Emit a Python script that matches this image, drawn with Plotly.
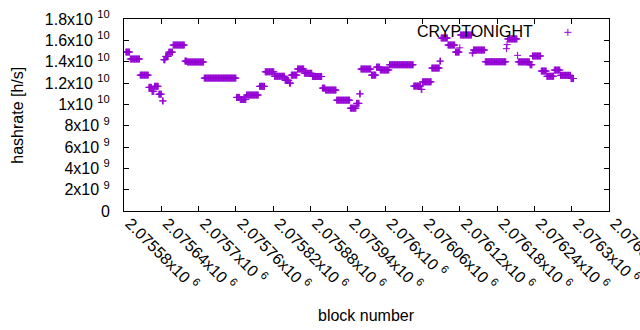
import plotly.graph_objects as go

# Runs of consecutive blocks sharing the same hashrate
run_first = [2075583, 2075590, 2075606, 2075620, 2075625, 2075629, 2075636, 2075642,
             2075644, 2075647, 2075652, 2075659, 2075678, 2075682, 2075709, 2075761,
             2075767, 2075777, 2075798, 2075807, 2075822, 2075839, 2075846, 2075849,
             2075859, 2075870, 2075883, 2075899, 2075904, 2075922, 2075944, 2075954,
             2075959, 2075961, 2075978, 2075986, 2075992, 2076007, 2076046, 2076058,
             2076060, 2076075, 2076088, 2076090, 2076101, 2076113, 2076120, 2076121,
             2076140, 2076142, 2076161, 2076195, 2076196, 2076197, 2076213, 2076214,
             2076233, 2076237, 2076251, 2076260, 2076272, 2076282, 2076299]
run_last = [2075589, 2075605, 2075619, 2075624, 2075628, 2075635, 2075640, 2075643,
            2075646, 2075651, 2075658, 2075677, 2075681, 2075708, 2075760, 2075766,
            2075776, 2075796, 2075806, 2075821, 2075838, 2075845, 2075848, 2075858,
            2075869, 2075882, 2075898, 2075903, 2075921, 2075943, 2075953, 2075958,
            2075960, 2075977, 2075985, 2075991, 2076006, 2076045, 2076057, 2076059,
            2076074, 2076087, 2076089, 2076100, 2076112, 2076119, 2076120, 2076139,
            2076141, 2076160, 2076194, 2076195, 2076196, 2076212, 2076213, 2076232,
            2076236, 2076250, 2076259, 2076271, 2076281, 2076298, 2076303]
run_hashrate = [14.90e9, 14.25e9, 12.74e9, 11.59e9, 11.22e9, 11.69e9, 10.95e9, 10.32e9,
                14.18e9, 14.49e9, 14.89e9, 15.56e9, 14.05e9, 13.97e9, 12.46e9, 10.65e9,
                10.45e9, 10.87e9, 11.69e9, 13.05e9, 12.63e9, 12.25e9, 11.99e9, 12.74e9,
                13.31e9, 12.91e9, 12.61e9, 11.52e9, 11.34e9, 10.39e9, 9.64e9, 10.09e9,
                10.98e9, 13.31e9, 12.74e9, 13.49e9, 13.22e9, 13.71e9, 11.71e9, 11.40e9,
                12.11e9, 13.40e9, 14.05e9, 16.22e9, 15.56e9, 14.90e9, 15.30e9, 16.50e9,
                14.81e9, 15.09e9, 13.99e9, 15.22e9, 15.60e9, 16.13e9, 14.59e9, 13.98e9,
                13.71e9, 14.53e9, 13.12e9, 12.63e9, 13.21e9, 12.72e9, 12.42e9]

series_name = "CRYPTONIGHT"

x_tickvals = [2075580, 2075640, 2075700, 2075760, 2075820, 2075880, 2075940,
              2076000, 2076060, 2076120, 2076180, 2076240, 2076300, 2076360]
x_ticktext = ["2.07558", "2.07564", "2.0757", "2.07576", "2.07582", "2.07588", "2.07594",
              "2.076", "2.07606", "2.07612", "2.07618", "2.07624", "2.0763", "2.07636"]
y_tickvals = [0, 2e9, 4e9, 6e9, 8e9, 1e10, 1.2e10, 1.4e10, 1.6e10, 1.8e10]
y_ticktext = ["0", "2x10 <sup>9</sup>", "4x10 <sup>9</sup>", "6x10 <sup>9</sup>",
              "8x10 <sup>9</sup>", "1x10 <sup>10</sup>", "1.2x10 <sup>10</sup>",
              "1.4x10 <sup>10</sup>", "1.6x10 <sup>10</sup>", "1.8x10 <sup>10</sup>"]

blocks, hashrates = [], []
for a, b, v in zip(run_first, run_last, run_hashrate):
    for blk in range(a, b + 1):
        blocks.append(blk)
        hashrates.append(v)

COLOR = "#9400D3"
FONT = "Liberation Sans, Arial, sans-serif"
marker = dict(symbol="cross-thin", size=5, line=dict(color=COLOR, width=1), color=COLOR)

fig = go.Figure()
fig.add_trace(go.Scatter(x=blocks, y=hashrates, mode="markers", marker=marker,
                         name=series_name, showlegend=False))
fig.add_trace(go.Scatter(x=[None], y=[None], mode="markers", marker=marker,
                         name="", showlegend=True))

axis_common = dict(showline=True, linecolor="black", linewidth=1, mirror="ticks",
                   ticks="inside", ticklen=5, tickcolor="black", showgrid=False,
                   zeroline=False, automargin=False,
                   tickfont=dict(family=FONT, size=16, color="black"))

fig.update_xaxes(range=[2075580, 2076360], tickmode="array", tickvals=x_tickvals,
                 ticktext=[t + "x10 <sup>6</sup>" for t in x_ticktext], tickangle=45,
                 ticklabeloverflow="allow", ticklabelshift=6, ticklabelstandoff=-4,
                 **axis_common)
fig.update_yaxes(range=[0, 1.8e10], tickmode="array", tickvals=y_tickvals,
                 ticktext=y_ticktext, ticklabelstandoff=10, **axis_common)

fig.update_layout(
    width=640, height=330, autosize=False,
    margin=dict(l=124, r=31, t=19, b=119),
    paper_bgcolor="white", plot_bgcolor="white",
    font=dict(family=FONT, size=16, color="black"),
    legend=dict(x=0.874, y=0.93, xanchor="left", yanchor="middle",
                bgcolor="rgba(0,0,0,0)", font=dict(size=16), itemwidth=30),
    annotations=[
        dict(text=series_name, xref="paper", yref="paper", x=0.8468, y=0.934,
             xanchor="right", yanchor="middle", showarrow=False,
             font=dict(family=FONT, size=16, color="black")),
        dict(text="hashrate [h/s]", xref="paper", yref="paper", x=-0.2212, y=0.5,
             xanchor="center", yanchor="middle", textangle=-90, showarrow=False,
             font=dict(family=FONT, size=16, color="black")),
        dict(text="block number", xref="paper", yref="paper", x=0.5, y=-0.545,
             xanchor="center", yanchor="middle", showarrow=False,
             font=dict(family=FONT, size=16, color="black")),
    ],
)

fig.write_html("out.html", config={"displayModeBar": False},
               post_script="document.body.style.margin='0';document.body.style.overflow='hidden';")
